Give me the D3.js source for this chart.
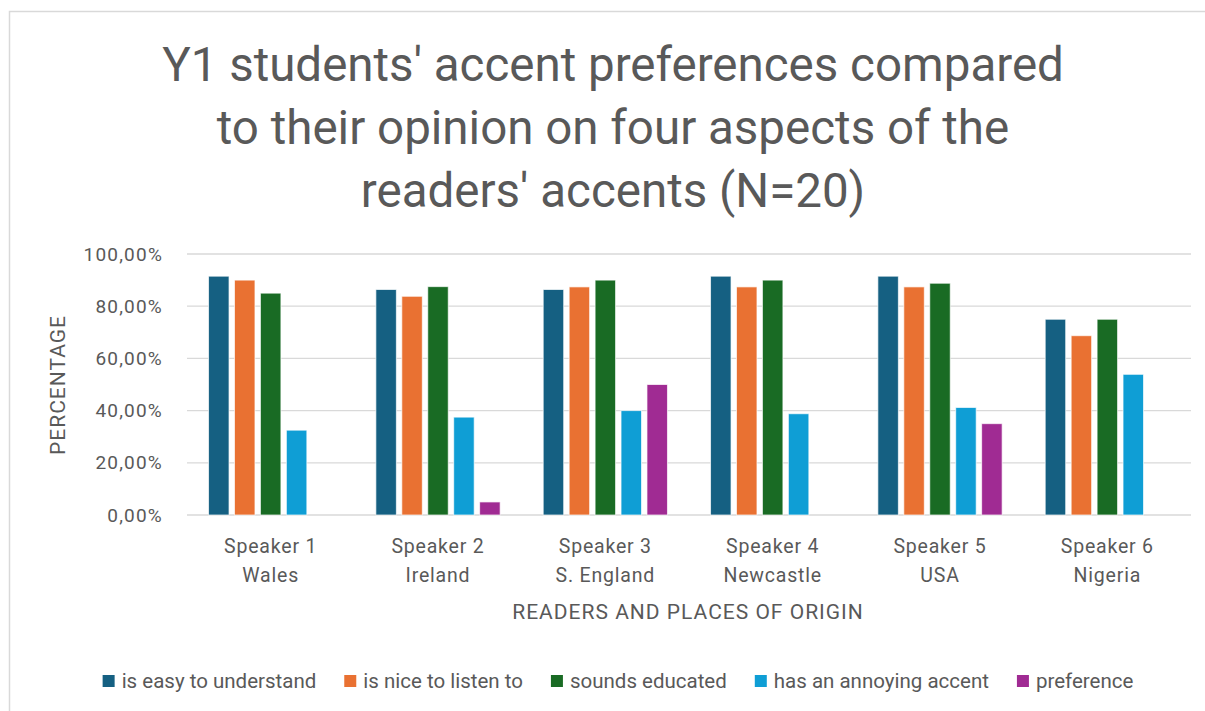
<!DOCTYPE html>
<html>
<head>
<meta charset="utf-8">
<script src="https://cdn.jsdelivr.net/npm/d3@7"></script>
<style>
  html, body { margin: 0; padding: 0; background: #fff; }
  svg { display: block; font-family: Roboto, "Open Sans", sans-serif; }
</style>
</head>
<body>
<svg id="chart" width="1205" height="711"></svg>
<script>
// Speakers (two-line category labels)
const speakers = ["Speaker 1", "Speaker 2", "Speaker 3", "Speaker 4", "Speaker 5", "Speaker 6"];
const origins = ["Wales", "Ireland", "S. England", "Newcastle", "USA", "Nigeria"];

// Series names
const seriesNames = ["is easy to understand", "is nice to listen to", "sounds educated", "has an annoying accent", "preference"];

// Percent of students agreeing, per speaker
const easyToUnderstand = [91.5, 86.4, 86.4, 91.5, 91.5, 75.0];
const niceToListenTo   = [90.0, 83.8, 87.4, 87.4, 87.4, 68.7];
const soundsEducated   = [85.0, 87.5, 90.0, 90.0, 88.8, 75.0];
const annoyingAccent   = [32.5, 37.5, 40.0, 38.8, 41.2, 53.9];
const preference       = [0,    5.0, 50.0, 0,    35.0, 0];

const yTicks = [0, 20, 40, 60, 80, 100];
const yTickLabels = ["0,00%", "20,00%", "40,00%", "60,00%", "80,00%", "100,00%"];

const colors = ["#156082", "#E97132", "#196B24", "#0F9ED5", "#A02B93"];
const seriesValues = [easyToUnderstand, niceToListenTo, soundsEducated, annoyingAccent, preference];

const svg = d3.select("#chart");
const textColor = "#595959";

// Chart area border
svg.append("rect")
  .attr("x", 9.5).attr("y", 11.5)
  .attr("width", 1205).attr("height", 720)
  .attr("fill", "none").attr("stroke", "#d9d9d9").attr("stroke-width", 1.5);

// Title
const titleLines = ["Y1 students' accent preferences compared",
                    "to their opinion on four aspects of the",
                    "readers' accents (N=20)"];
svg.append("text")
  .attr("text-anchor", "middle")
  .attr("fill", textColor)
  .attr("font-size", 47.5)
  .selectAll("tspan").data(titleLines).join("tspan")
    .attr("x", 613)
    .attr("y", (d, i) => 81 + i * 63)
    .text(d => d);

// Scales
const plot = { left: 187, right: 1191, top: 254, bottom: 515 };
const x0 = d3.scaleBand().domain(speakers).range([plot.left, plot.right]).padding(0);
const x1 = d3.scaleBand().domain(d3.range(seriesNames.length))
  .range([0, x0.bandwidth()]).paddingInner(0.21).paddingOuter(0.83);
const y = d3.scaleLinear().domain([0, 100]).range([plot.bottom, plot.top]);

// Gridlines
svg.append("g")
  .selectAll("line").data(yTicks).join("line")
    .attr("x1", plot.left).attr("x2", plot.right)
    .attr("y1", d => y(d)).attr("y2", d => y(d))
    .attr("stroke", "#d9d9d9").attr("stroke-width", 1.3);

// Y tick labels
svg.append("g")
  .selectAll("text").data(yTicks).join("text")
    .attr("x", 163).attr("y", d => y(d))
    .attr("dy", "0.35em")
    .attr("text-anchor", "end")
    .attr("fill", textColor)
    .attr("font-size", 19)
    .attr("letter-spacing", 1.2)
    .text((d, i) => yTickLabels[i]);

// Bars
const groups = svg.append("g").selectAll("g").data(speakers).join("g")
  .attr("transform", d => `translate(${x0(d)},0)`);

groups.selectAll("rect")
  .data((d, ci) => seriesValues.map((vals, si) => ({ si, v: vals[ci] })).filter(e => e.v > 0))
  .join("rect")
    .attr("x", d => x1(d.si))
    .attr("width", x1.bandwidth())
    .attr("y", d => y(d.v))
    .attr("height", d => y(0) - y(d.v))
    .attr("fill", d => colors[d.si])
    .attr("stroke", "rgba(255,255,255,0.7)")
    .attr("stroke-width", 1);

// Category labels
const catLabels = svg.append("g").selectAll("text").data(speakers).join("text")
  .attr("text-anchor", "middle")
  .attr("fill", textColor)
  .attr("font-size", 19.5)
  .attr("letter-spacing", 0.8);
catLabels.append("tspan")
  .attr("x", d => x0(d) + x0.bandwidth() / 2)
  .attr("y", 553)
  .text(d => d);
catLabels.append("tspan")
  .attr("x", d => x0(d) + x0.bandwidth() / 2)
  .attr("y", 582)
  .text((d, i) => origins[i]);

// Axis titles
svg.append("text")
  .attr("x", 688).attr("y", 619)
  .attr("text-anchor", "middle")
  .attr("fill", textColor)
  .attr("font-size", 21)
  .attr("letter-spacing", 1)
  .text("READERS AND PLACES OF ORIGIN");

svg.append("text")
  .attr("transform", "translate(65,385) rotate(-90)")
  .attr("text-anchor", "middle")
  .attr("fill", textColor)
  .attr("font-size", 21)
  .attr("letter-spacing", 1)
  .text("PERCENTAGE");

// Legend
const legend = svg.append("g");
const items = legend.selectAll("g").data(seriesNames).join("g");
items.append("rect")
  .attr("width", 12).attr("height", 12)
  .attr("y", -13)
  .attr("fill", (d, i) => colors[i]);
items.append("text")
  .attr("x", 19)
  .attr("fill", textColor)
  .attr("font-size", 20.5)
  .text(d => d);
let cx = 0;
items.each(function () {
  const w = d3.select(this).select("text").node().getComputedTextLength() + 19;
  d3.select(this).attr("transform", `translate(${cx},688)`);
  cx += w + 28;
});
const total = cx - 28;
legend.attr("transform", `translate(${618 - total / 2},0)`);
</script>
</body>
</html>
